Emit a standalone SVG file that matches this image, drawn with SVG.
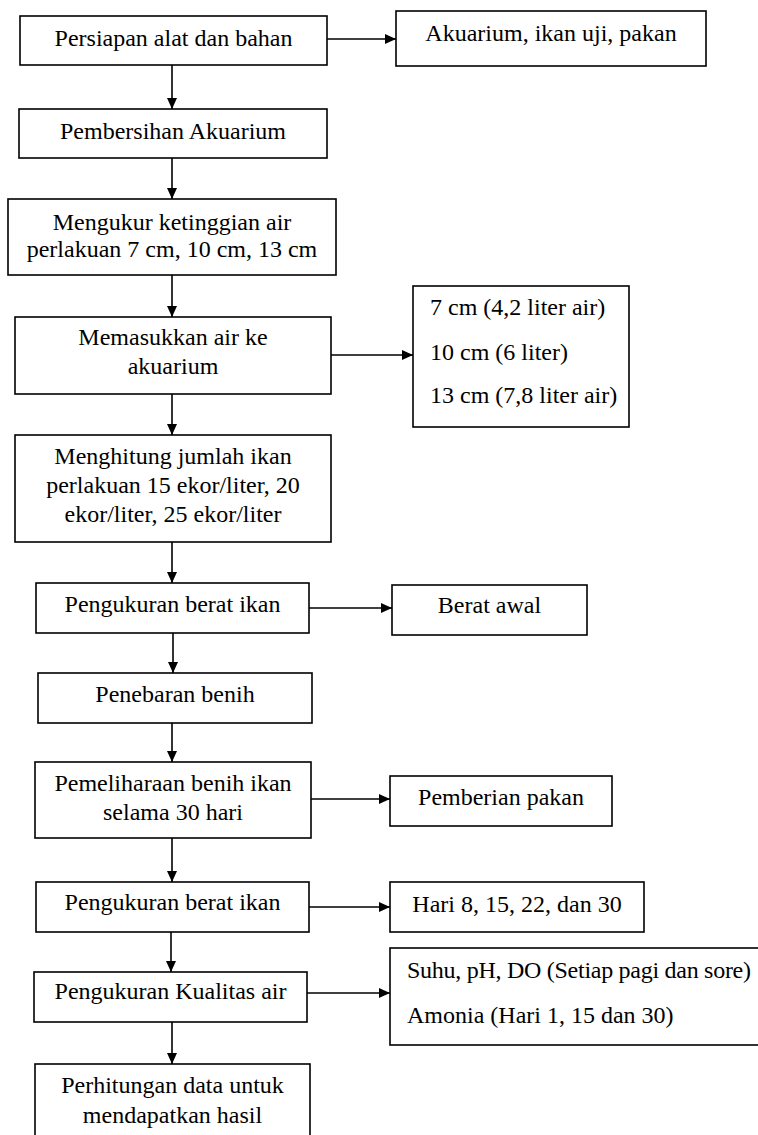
<svg xmlns="http://www.w3.org/2000/svg" width="758" height="1135" viewBox="0 0 758 1135">
<defs>
<style>
.box{fill:#fff;stroke:#000;stroke-width:1.6}
text{font-family:"Liberation Serif","Times New Roman",serif;font-size:24px;fill:#000}
.c{text-anchor:middle}
.con{stroke:#000;stroke-width:1.6;fill:none}
</style>
<marker id="ah" markerUnits="userSpaceOnUse" markerWidth="12" markerHeight="10" refX="11" refY="5" orient="auto">
<path d="M0,0 L11,5 L0,10 z" fill="#000"/>
</marker>
</defs>
<rect width="758" height="1135" fill="#fff"/>
<g id="connectors">
<line class="con" x1="327" y1="39" x2="396" y2="39" marker-end="url(#ah)"/>
<line class="con" x1="172" y1="65" x2="172" y2="109" marker-end="url(#ah)"/>
<line class="con" x1="172" y1="158" x2="172" y2="199" marker-end="url(#ah)"/>
<line class="con" x1="172" y1="275" x2="172" y2="317" marker-end="url(#ah)"/>
<line class="con" x1="331" y1="355" x2="413" y2="355" marker-end="url(#ah)"/>
<line class="con" x1="172" y1="394" x2="172" y2="435" marker-end="url(#ah)"/>
<line class="con" x1="172" y1="542" x2="172" y2="583" marker-end="url(#ah)"/>
<line class="con" x1="309" y1="608" x2="392" y2="608" marker-end="url(#ah)"/>
<line class="con" x1="173" y1="633" x2="173" y2="673" marker-end="url(#ah)"/>
<line class="con" x1="172" y1="723" x2="172" y2="762" marker-end="url(#ah)"/>
<line class="con" x1="311" y1="799" x2="390" y2="799" marker-end="url(#ah)"/>
<line class="con" x1="172" y1="838" x2="172" y2="882" marker-end="url(#ah)"/>
<line class="con" x1="309" y1="907" x2="390" y2="907" marker-end="url(#ah)"/>
<line class="con" x1="171" y1="932" x2="171" y2="972" marker-end="url(#ah)"/>
<line class="con" x1="307" y1="993" x2="390" y2="993" marker-end="url(#ah)"/>
<line class="con" x1="172" y1="1022" x2="172" y2="1064" marker-end="url(#ah)"/>
</g>
<g id="n1"><rect class="box" x="20" y="16" width="307" height="49"/><text class="c" x="173.5" y="46">Persiapan alat dan bahan</text></g>
<g id="n1r"><rect class="box" x="396" y="11" width="310" height="55"/><text class="c" x="551" y="41">Akuarium, ikan uji, pakan</text></g>
<g id="n2"><rect class="box" x="19" y="109" width="308" height="49"/><text class="c" x="173" y="139">Pembersihan Akuarium</text></g>
<g id="n3"><rect class="box" x="8" y="199" width="328" height="76"/><text class="c" x="172" y="230">Mengukur ketinggian air</text><text class="c" x="172" y="257">perlakuan 7 cm, 10 cm, 13 cm</text></g>
<g id="n4"><rect class="box" x="15" y="317" width="316" height="77"/><text class="c" x="173" y="345">Memasukkan air ke</text><text class="c" x="173" y="374">akuarium</text></g>
<g id="n4r"><rect class="box" x="413" y="286" width="216" height="141"/><text x="430" y="315">7 cm (4,2 liter air)</text><text x="430" y="360">10 cm (6 liter)</text><text x="430" y="403">13 cm (7,8 liter air)</text></g>
<g id="n5"><rect class="box" x="15" y="435" width="316" height="107"/><text class="c" x="173" y="464">Menghitung jumlah ikan</text><text class="c" x="173" y="493">perlakuan 15 ekor/liter, 20</text><text class="c" x="173" y="522">ekor/liter, 25 ekor/liter</text></g>
<g id="n6"><rect class="box" x="36" y="583" width="273" height="50"/><text class="c" x="172.5" y="612">Pengukuran berat ikan</text></g>
<g id="n6r"><rect class="box" x="392" y="585" width="195" height="50"/><text class="c" x="489.5" y="613">Berat awal</text></g>
<g id="n7"><rect class="box" x="38" y="673" width="274" height="50"/><text class="c" x="175" y="702">Penebaran benih</text></g>
<g id="n8"><rect class="box" x="35" y="762" width="276" height="76"/><text class="c" x="173" y="791">Pemeliharaan benih ikan</text><text class="c" x="173" y="820">selama 30 hari</text></g>
<g id="n8r"><rect class="box" x="390" y="776" width="222" height="50"/><text class="c" x="501" y="805">Pemberian pakan</text></g>
<g id="n9"><rect class="box" x="36" y="882" width="273" height="50"/><text class="c" x="172.5" y="910">Pengukuran berat ikan</text></g>
<g id="n9r"><rect class="box" x="390" y="882" width="254" height="50"/><text class="c" x="517" y="912">Hari 8, 15, 22, dan 30</text></g>
<g id="n10"><rect class="box" x="34" y="972" width="273" height="50"/><text class="c" x="170.5" y="999">Pengukuran Kualitas air</text></g>
<g id="n10r"><rect class="box" x="390" y="948" width="380" height="97"/><text x="407" y="978" textLength="344" lengthAdjust="spacing">Suhu, pH, DO (Setiap pagi dan sore)</text><text x="407" y="1023">Amonia (Hari 1, 15 dan 30)</text></g>
<g id="n11"><rect class="box" x="35" y="1064" width="275" height="90"/><text class="c" x="172.5" y="1093">Perhitungan data untuk</text><text class="c" x="172.5" y="1123">mendapatkan hasil</text></g>
</svg>
